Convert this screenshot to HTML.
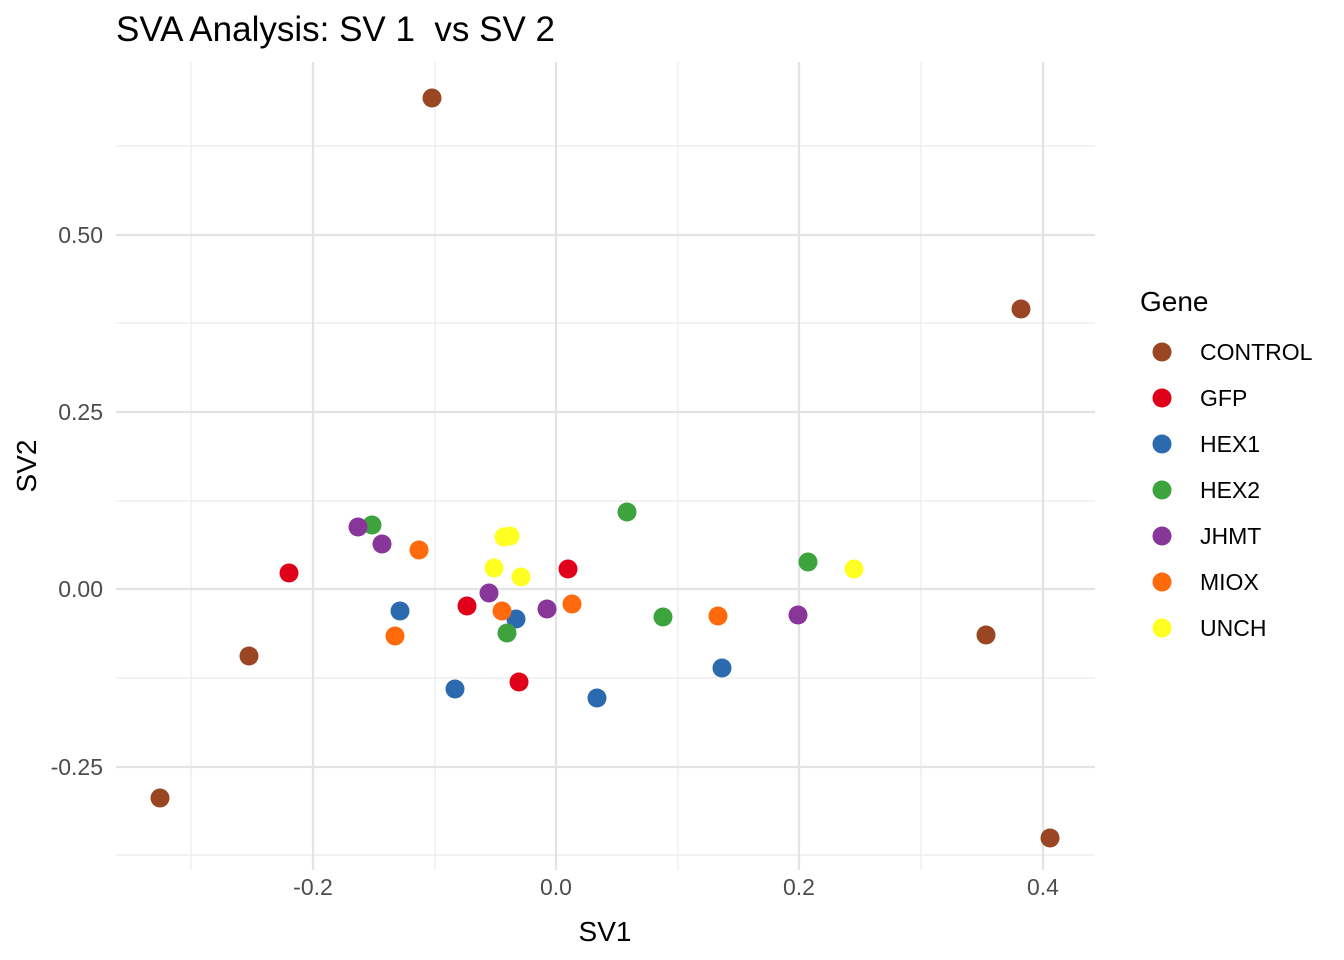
<!DOCTYPE html>
<html><head><meta charset="utf-8"><style>body{margin:0;background:#fff}svg{display:block}text{font-family:"Liberation Sans",Arial,sans-serif}</style></head>
<body>
<svg width="1344" height="960" xmlns="http://www.w3.org/2000/svg">
<rect width="1344" height="960" fill="#fff"/>
<g stroke="#ebebeb" stroke-width="1.2">
<line x1="191" y1="62" x2="191" y2="870"/><line x1="435" y1="62" x2="435" y2="870"/><line x1="678" y1="62" x2="678" y2="870"/><line x1="921" y1="62" x2="921" y2="870"/>
<line x1="116" y1="146" x2="1095" y2="146"/><line x1="116" y1="323" x2="1095" y2="323"/><line x1="116" y1="501" x2="1095" y2="501"/><line x1="116" y1="678" x2="1095" y2="678"/><line x1="116" y1="855" x2="1095" y2="855"/>
</g>
<g stroke="#e3e3e3" stroke-width="2.2">
<line x1="313" y1="62" x2="313" y2="870"/><line x1="556" y1="62" x2="556" y2="870"/><line x1="799" y1="62" x2="799" y2="870"/><line x1="1043" y1="62" x2="1043" y2="870"/>
<line x1="116" y1="235" x2="1095" y2="235"/><line x1="116" y1="412" x2="1095" y2="412"/><line x1="116" y1="589" x2="1095" y2="589"/><line x1="116" y1="767" x2="1095" y2="767"/>
</g>
<g font-size="23" fill="#4d4d4d" text-anchor="end">
<text x="103" y="243">0.50</text><text x="103" y="420">0.25</text><text x="103" y="597">0.00</text><text x="103" y="775">-0.25</text>
</g>
<g font-size="23" fill="#4d4d4d" text-anchor="middle">
<text x="313" y="895">-0.2</text><text x="556" y="895">0.0</text><text x="799" y="895">0.2</text><text x="1043" y="895">0.4</text>
</g>
<text x="605" y="941" font-size="28" text-anchor="middle">SV1</text>
<text x="0" y="0" font-size="28" text-anchor="middle" transform="translate(36,466) rotate(-90)">SV2</text>
<text x="116" y="41" font-size="35">SVA Analysis: SV 1&#160; vs SV 2</text>
<g>
<g fill="#9A4623"><circle cx="432" cy="98" r="9.5"/><circle cx="1021" cy="309" r="9.5"/><circle cx="249" cy="656" r="9.5"/><circle cx="160" cy="798" r="9.5"/><circle cx="986" cy="635" r="9.5"/><circle cx="1050" cy="838" r="9.5"/></g>
<g fill="#E0001A"><circle cx="289" cy="573" r="9.5"/><circle cx="568" cy="569" r="9.5"/><circle cx="467" cy="606" r="9.5"/><circle cx="519" cy="682" r="9.5"/></g>
<g fill="#2B6AAE"><circle cx="400" cy="611" r="9.5"/><circle cx="516" cy="619" r="9.5"/><circle cx="455" cy="689" r="9.5"/><circle cx="597" cy="698" r="9.5"/><circle cx="722" cy="668" r="9.5"/></g>
<g fill="#3DA33D"><circle cx="372" cy="525" r="9.5"/><circle cx="627" cy="512" r="9.5"/><circle cx="808" cy="562" r="9.5"/><circle cx="507" cy="633" r="9.5"/><circle cx="663" cy="617" r="9.5"/></g>
<g fill="#88369A"><circle cx="358" cy="527" r="9.5"/><circle cx="382" cy="544" r="9.5"/><circle cx="489" cy="593" r="9.5"/><circle cx="547" cy="609" r="9.5"/><circle cx="798" cy="615" r="9.5"/></g>
<g fill="#FF6A0D"><circle cx="419" cy="550" r="9.5"/><circle cx="395" cy="636" r="9.5"/><circle cx="502" cy="611" r="9.5"/><circle cx="572" cy="604" r="9.5"/><circle cx="718" cy="616" r="9.5"/></g>
<g fill="#FFFF22"><circle cx="504" cy="537" r="9.5"/><circle cx="510" cy="536" r="9.5"/><circle cx="494" cy="568" r="9.5"/><circle cx="521" cy="577" r="9.5"/><circle cx="854" cy="569" r="9.5"/></g>
</g>
<text x="1140" y="311" font-size="28">Gene</text>
<g font-size="23">
<circle cx="1162" cy="352" r="9.5" fill="#9A4623"/><text x="1200" y="360">CONTROL</text>
<circle cx="1162" cy="398" r="9.5" fill="#E0001A"/><text x="1200" y="406">GFP</text>
<circle cx="1162" cy="444" r="9.5" fill="#2B6AAE"/><text x="1200" y="452">HEX1</text>
<circle cx="1162" cy="490" r="9.5" fill="#3DA33D"/><text x="1200" y="498">HEX2</text>
<circle cx="1162" cy="536" r="9.5" fill="#88369A"/><text x="1200" y="544">JHMT</text>
<circle cx="1162" cy="582" r="9.5" fill="#FF6A0D"/><text x="1200" y="590">MIOX</text>
<circle cx="1162" cy="628" r="9.5" fill="#FFFF22"/><text x="1200" y="636">UNCH</text>
</g>
</svg>
</body></html>
